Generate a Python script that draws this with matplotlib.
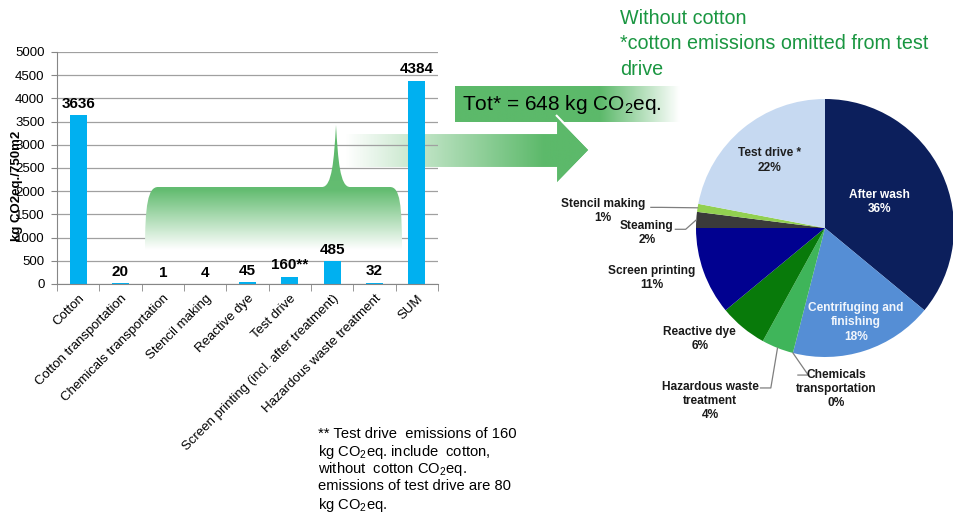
import numpy as np
import matplotlib
matplotlib.use('Agg')
import matplotlib.pyplot as plt
from matplotlib.path import Path
from matplotlib.patches import PathPatch, Polygon, Rectangle
from matplotlib.colors import LinearSegmentedColormap

plt.rcParams['font.family'] = ['Liberation Sans', 'DejaVu Sans']
plt.rcParams['mathtext.fontset'] = 'custom'
plt.rcParams['mathtext.rm'] = 'Liberation Sans'
plt.rcParams['mathtext.it'] = 'Liberation Sans:italic'
plt.rcParams['mathtext.bf'] = 'Liberation Sans:bold'

# bar chart data (kg CO2eq./750m2)
categories = ['Cotton', 'Cotton transportation', 'Chemicals transportation',
              'Stencil making', 'Reactive dye', 'Test drive',
              'Screen printing (incl. after treatment)',
              'Hazardous waste treatment', 'SUM']
emissions = [3636, 20, 1, 4, 45, 160, 485, 32, 4384]
value_labels = ['3636', '20', '1', '4', '45', '160**', '485', '32', '4384']

# pie data (share without cotton, %)
pie_names = ['After wash', 'Centrifuging and\nfinishing', 'Chemicals\ntransportation',
             'Hazardous waste\ntreatment', 'Reactive dye', 'Screen printing',
             'Steaming', 'Stencil making', 'Test drive *']
pie_shares = [36, 18, 0, 4, 6, 11, 2, 1, 22]
pie_colors = ['#0c1f5c', '#558ed5', '#92d050', '#3fb55a', '#087a0a',
              '#010190', '#3a3a3a', '#92d050', '#c6d9f1']

footnote = ['** Test drive  emissions of 160',
            r'kg CO$_2$eq. include  cotton,',
            r'without  cotton CO$_2$eq.',
            'emissions of test drive are 80',
            r'kg CO$_2$eq.']

GREEN = '#5cb96a'
BAR = '#00b0f0'

fig = plt.figure(figsize=(9.54, 5.13), dpi=100)

# ---- bar chart
ax = fig.add_axes([57 / 954, 1 - 284 / 513, 381 / 954, 232 / 513])
ax.patch.set_visible(False)
x = np.arange(len(categories))
ax.bar(x, emissions, width=0.4, color=BAR, zorder=2)
ax.set_ylim(0, 5000)
ax.set_xlim(-0.5, len(categories) - 0.5)
ax.set_yticks(np.arange(0, 5001, 500))
ax.yaxis.grid(True, color='#a0a0a0', linewidth=0.9)
ax.set_axisbelow(True)
ax.set_xticks(x)
ax.set_xticklabels(categories, rotation=45, ha='right', rotation_mode='anchor',
                   fontsize=9.5)
ax.set_xticks(np.arange(-0.5, len(categories), 1), minor=True)
ax.tick_params(axis='x', which='major', length=0, pad=6)
ax.tick_params(axis='x', which='minor', length=5, color='#868686')
ax.tick_params(axis='y', length=4, color='#868686', labelsize=9.5, pad=5)
for s in ['top', 'right']:
    ax.spines[s].set_visible(False)
for s in ['left', 'bottom']:
    ax.spines[s].set_color('#868686')
fig.text(17 / 954, 1 - 186 / 513, 'kg CO2eq./750m2', rotation=90,
         ha='center', va='center', fontsize=9.5, fontweight='bold')

# ---- pie chart
pax = fig.add_axes([696 / 954, 1 - 357 / 513, 258 / 954, 258 / 513])
wedges, _ = pax.pie(pie_shares, colors=pie_colors, startangle=90,
                    counterclock=False, radius=1)
pax.set_xlim(-1, 1)
pax.set_ylim(-1, 1)
pax.set_aspect('equal')

# label layout in pie units: inside radius, or text position + leader start
inside = {'After wash': (0.47, 'white'), 'Centrifuging and\nfinishing': (0.77, '#f2f6fc'),
          'Test drive *': (0.68, '#1f1f1f')}
outside = {'Stencil making': ((-1.72, 0.13), (-1.35, 0.16)),
           'Steaming': ((-1.38, -0.04), (-1.16, -0.01)),
           'Screen printing': ((-1.34, -0.39), None),
           'Reactive dye': ((-0.97, -0.86), None),
           'Hazardous waste\ntreatment': ((-0.89, -1.34), (-0.50, -1.24)),
           'Chemicals\ntransportation': ((0.09, -1.25), (-0.21, -1.14))}
for w, name, share in zip(wedges, pie_names, pie_shares):
    mid = np.deg2rad((w.theta1 + w.theta2) / 2)
    txt = f'{name}\n{share}%'
    if name in inside:
        r, col = inside[name]
        pax.text(r * np.cos(mid), r * np.sin(mid), txt, ha='center', va='center',
                 fontsize=8.6, fontweight='bold', color=col, linespacing=1.25)
    else:
        (tx, ty), lead = outside[name]
        pax.text(tx, ty, txt, ha='center', va='center', fontsize=8.6,
                 fontweight='bold', color='#1a1a1a', linespacing=1.25, clip_on=False)
        if lead is not None:
            ex, ey = np.cos(mid), np.sin(mid)
            pax.plot([lead[0], lead[0] + 0.08, ex], [lead[1], lead[1], ey],
                     color='#7f7f7f', lw=0.9, clip_on=False)

# ---- overlay decorations in pixel coordinates
back = fig.add_axes([0, 0, 1, 1], zorder=-1)
front = fig.add_axes([0, 0, 1, 1], zorder=3)
for o in (back, front):
    o.set_xlim(0, 954)
    o.set_ylim(513, 0)
    o.axis('off')
    o.patch.set_visible(False)

fade = LinearSegmentedColormap.from_list('fade', ['white', GREEN])

# arrow (behind the bars)
arrow = Polygon([(345, 133), (556, 133), (556, 115), (590, 150), (556, 185),
                 (556, 168), (345, 168)], closed=True, facecolor='none',
                edgecolor='white', lw=1.5)
back.add_patch(arrow)
grad = np.interp(np.arange(345, 591), [345, 545], [0, 1]).reshape(1, -1)
im = back.imshow(grad, cmap=fade, vmin=0, vmax=1, extent=(345, 590, 185, 115),
                 aspect='auto', origin='upper')
im.set_clip_path(arrow)

# Tot box
box = Rectangle((455, 86), 225, 36, facecolor='none', edgecolor='none')
front.add_patch(box)
grad = np.interp(np.arange(455, 681), [455, 600, 680], [1, 1, 0]).reshape(1, -1)
im = front.imshow(grad, cmap=fade, vmin=0, vmax=1, extent=(455, 680, 122, 86),
                  aspect='auto', origin='upper')
im.set_clip_path(box)
head = Polygon([(556, 115), (590, 150), (556, 185)], closed=False,
               facecolor='none', edgecolor='white', lw=1.5)
front.add_patch(head)
front.text(462, 104, r'Tot* = 648 kg CO$_2$eq.', fontsize=15, va='center', ha='left')

# brace over the small bars
verts = [(145, 250), (145, 205), (148, 187), (158, 187),
         (322, 187),
         (332, 187), (334, 160), (336, 125),
         (338, 160), (340, 187), (350, 187),
         (390, 187),
         (400, 187), (402, 205), (402, 250),
         (145, 250)]
codes = [Path.MOVETO, Path.CURVE4, Path.CURVE4, Path.CURVE4,
         Path.LINETO,
         Path.CURVE4, Path.CURVE4, Path.CURVE4,
         Path.CURVE4, Path.CURVE4, Path.CURVE4,
         Path.LINETO,
         Path.CURVE4, Path.CURVE4, Path.CURVE4,
         Path.CLOSEPOLY]
brace = PathPatch(Path(verts, codes), facecolor='none', edgecolor='none')
front.add_patch(brace)
grad = np.interp(np.arange(125, 251), [125, 190, 250], [1, 0.95, 0]).reshape(-1, 1)
im = front.imshow(grad, cmap=fade, vmin=0, vmax=1, extent=(145, 402, 250, 125),
                  aspect='auto', origin='upper')
im.set_clip_path(brace)

# bar value labels, drawn above the brace
for xi, v, lab in zip(x, emissions, value_labels):
    front.annotate(lab, (xi, v), xycoords=ax.transData, xytext=(0, 3),
                   textcoords='offset points', ha='center', va='bottom',
                   fontsize=11, fontweight='bold', annotation_clip=False)

# texts
front.text(620, 9, 'Without cotton\n*cotton emissions omitted from test\ndrive',
           color='#1a9641', fontsize=14.2, va='top', ha='left', linespacing=1.42)
for i, line in enumerate(footnote):
    front.text(318, 432 + 17.5 * i, line, fontsize=10.6, va='center_baseline',
               ha='left')

fig.savefig('out.png', dpi=100)
